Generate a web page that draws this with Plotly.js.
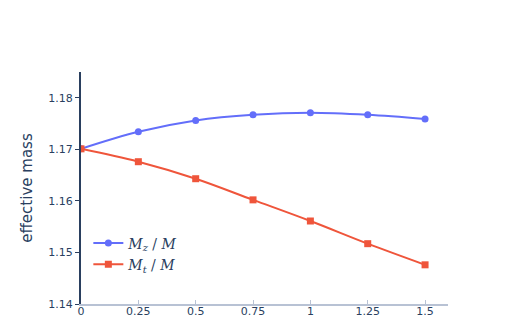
<!DOCTYPE html>
<html><head><meta charset="utf-8">
<script src="https://cdn.plot.ly/plotly-3.0.1.min.js"></script>
<style>body{margin:0;padding:0;}#chart{width:510px;height:318px;}</style>
</head><body><div id="chart"></div>
<script>
const xVals = [0, 0.25, 0.5, 0.75, 1, 1.25, 1.5];
const mzRatio = [1.1701, 1.1734, 1.1756, 1.1767, 1.1771, 1.1767, 1.1759];
const mtRatio = [1.1701, 1.1676, 1.1643, 1.1602, 1.1561, 1.1517, 1.1476];
const tickVals = [0, 0.25, 0.5, 0.75, 1, 1.25, 1.5];
const tickText = ['0', '0.25', '0.5', '0.75', '1', '1.25', '1.5'];
const yTickVals = [1.14, 1.15, 1.16, 1.17, 1.18];

const traces = [
  {x: xVals, y: mzRatio, mode: 'lines+markers', name: '<i>M<sub>z</sub></i> / <i>M</i>',
   line: {color: '#636efa', width: 2, shape: 'spline'}, marker: {symbol: 'circle', size: 7, color: '#636efa'}},
  {x: xVals, y: mtRatio, mode: 'lines+markers', name: '<i>M<sub>t</sub></i> / <i>M</i>',
   line: {color: '#ef553b', width: 2, shape: 'spline'}, marker: {symbol: 'square', size: 7, color: '#ef553b'}}
];
const layout = {
  width: 510, height: 318,
  margin: {l: 81, r: 62, t: 72, b: 14},
  paper_bgcolor: 'white', plot_bgcolor: 'white',
  font: {family: 'DejaVu Sans, Verdana, sans-serif', size: 11, color: '#2a3f5f'},
  showlegend: true,
  legend: {x: 0.02, y: 0.33, xanchor: 'left', yanchor: 'top', bgcolor: 'rgba(0,0,0,0)',
    font: {family: 'DejaVu Serif, Liberation Serif, serif', size: 14, color: '#2a3f5f'}, tracegroupgap: 2},
  xaxis: {range: [0, 1.6], tickvals: tickVals, ticktext: tickText, showgrid: false, zeroline: false,
    showline: true, linecolor: '#b8c2d4', linewidth: 1.5, ticks: 'inside', ticklen: 4, tickcolor: '#b8c2d4',
    tickfont: {size: 11}, ticklabelstandoff: -4},
  yaxis: {range: [1.14, 1.185], tickvals: yTickVals, showgrid: false, zeroline: false,
    showline: true, linecolor: '#2a3f5f', linewidth: 2, ticks: 'outside', ticklen: 4, tickcolor: '#2a3f5f',
    tickformat: '.2f', title: {text: 'effective mass', font: {size: 15, color: '#2a3f5f'}, standoff: 12}}
};
Plotly.newPlot('chart', traces, layout, {displayModeBar: false, staticPlot: true});
</script></body></html>
